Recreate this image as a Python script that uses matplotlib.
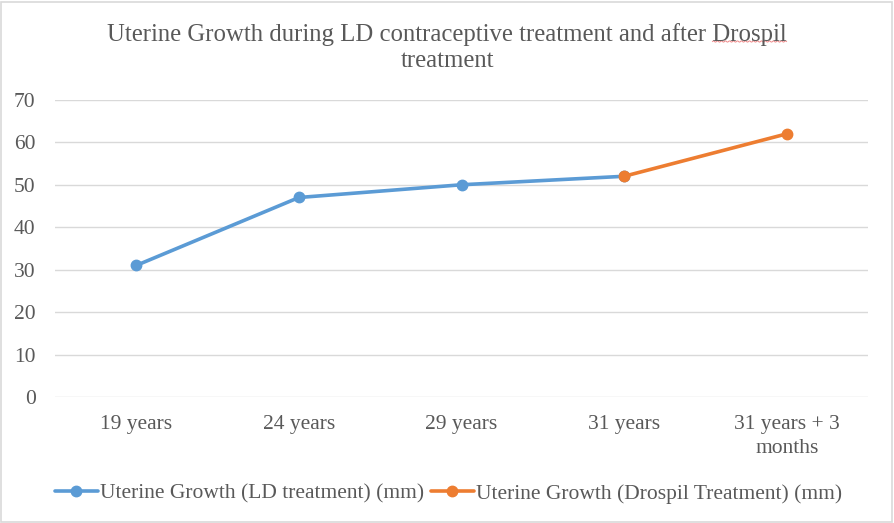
import matplotlib
matplotlib.use("Agg")
import matplotlib.pyplot as plt
import numpy as np
from matplotlib.patches import Rectangle
from matplotlib.lines import Line2D

categories = ["19 years", "24 years", "29 years", "31 years", "31 years + 3\nmonths"]
ld_values = [31, 47, 50, 52]
drospil_values = [52, 62]
y_ticks = [0, 10, 20, 30, 40, 50, 60, 70]

blue = "#5B9BD5"
orange = "#ED7D31"
txt = "#595959"
grid = "#D9D9D9"

plt.rcParams['font.family'] = ['Liberation Serif', 'DejaVu Serif']

W, H = 894, 523
fig = plt.figure(figsize=(W / 100, H / 100), dpi=100)
ax = fig.add_axes([0.0615, 0.241, 0.9095, 0.568])

x_all = list(range(len(categories)))
ax.plot(x_all[:4], ld_values, color=blue, lw=2.6, marker='o', ms=7.5,
        label="Uterine Growth (LD treatment) (mm)", solid_capstyle='round')
ax.plot(x_all[3:], drospil_values, color=orange, lw=2.6, marker='o', ms=7.5,
        label="Uterine Growth (Drospil Treatment) (mm)", solid_capstyle='round')

ax.set_xlim(-0.5, len(categories) - 0.5)
ax.set_ylim(0, 70)
ax.set_yticks(y_ticks)
ax.set_xticks(x_all)
ax.set_xticklabels(categories, fontsize=15.5, color=txt, linespacing=1.37)
ax.tick_params(axis='y', labelsize=15.5, labelcolor=txt, length=0, pad=14)
ax.tick_params(axis='x', length=0, pad=13)
ax.grid(axis='y', color=grid, lw=1)
ax.set_axisbelow(True)
for s in ax.spines.values():
    s.set_visible(False)

line1 = "Uterine Growth during LD contraceptive treatment and after Drospil"
prefix = "Uterine Growth during LD contraceptive treatment and after "
base1 = 1 - 41 / H
t1 = fig.text(0.5, base1, line1, ha='center', va='baseline', fontsize=17.8, color=txt)
fig.text(0.5, 1 - 67 / H, "treatment", ha='center', va='baseline', fontsize=17.8, color=txt)

ax.legend(loc='center', bbox_to_anchor=(0.484, -0.325), ncol=2, frameon=False,
          fontsize=15.5, labelcolor=txt, handlelength=2.0, handletextpad=0.1,
          columnspacing=0.3, borderaxespad=0)

fig.add_artist(Rectangle((0.001, 0.001), 0.997, 0.996, transform=fig.transFigure,
                         fill=False, edgecolor="#D9D9D9", lw=1.2))

# spell-check style wavy underline beneath "Drospil"
fig.canvas.draw()
r = fig.canvas.get_renderer()
bb = t1.get_window_extent(r)
tp = fig.text(0, 0, prefix, fontsize=17.8, alpha=0)
wp = tp.get_window_extent(r).width
x0 = bb.x0 + wp
x1 = bb.x1
ybase = base1 * H - 0.5
xs = np.arange(x0, x1, 0.5)
ys = ybase + 0.6 * np.sin((xs - x0) * np.pi / 2.0)
fig.add_artist(Line2D(xs / W, ys / H, transform=fig.transFigure,
                      color="#EE8A8A", lw=0.7))

fig.savefig("out.png", dpi=100)
